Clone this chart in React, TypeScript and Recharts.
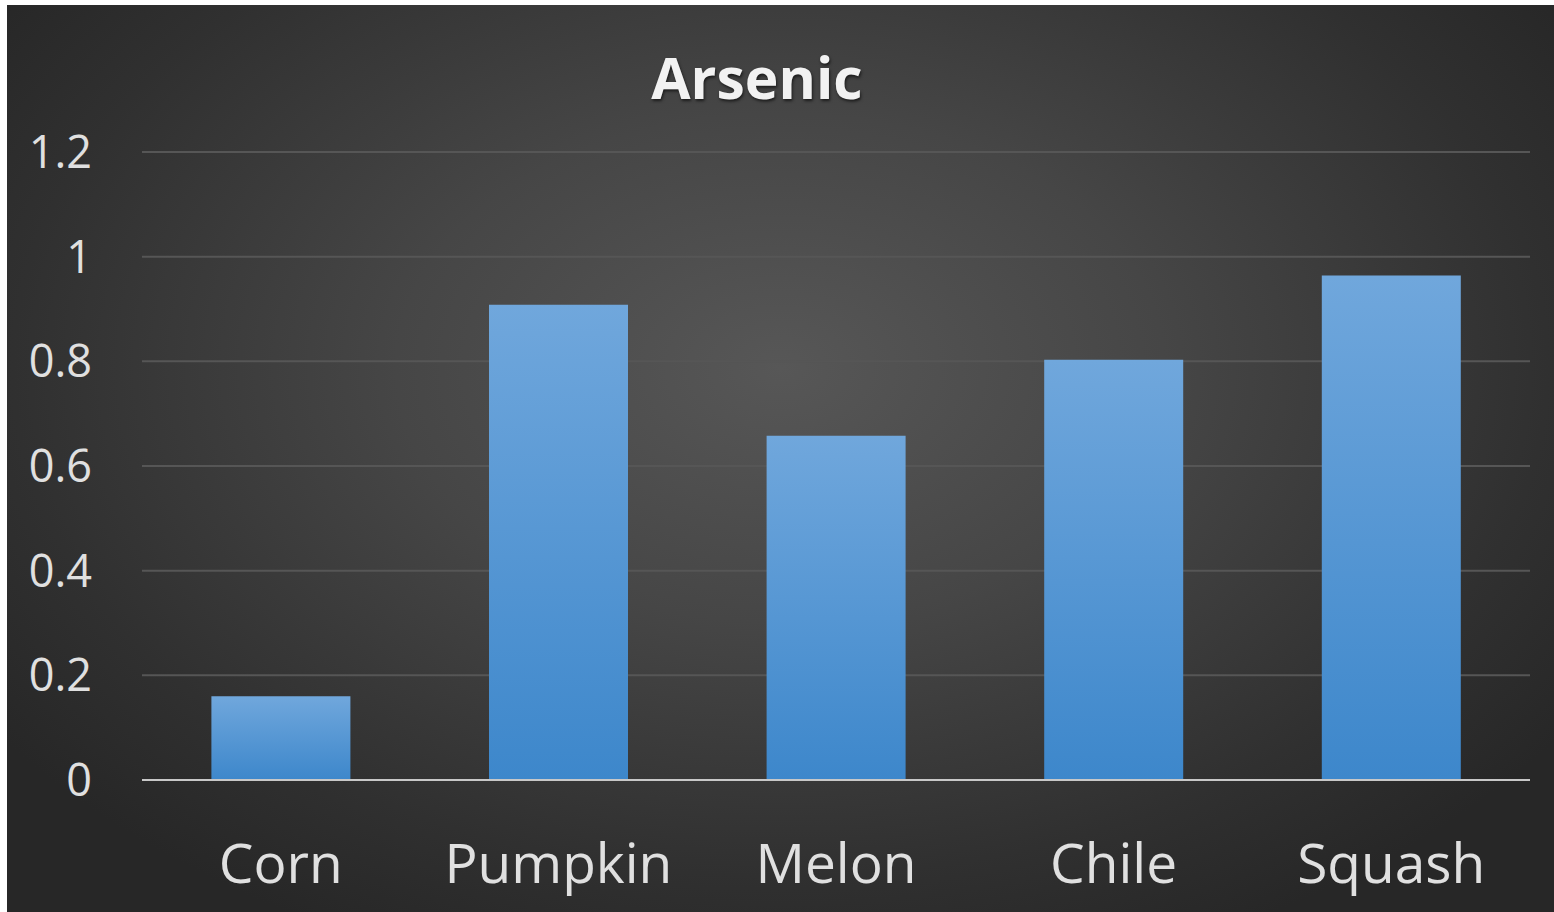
import React from 'react';
import { BarChart, Bar, XAxis, YAxis, CartesianGrid, ReferenceLine } from 'recharts';

const crops = ['Corn', 'Pumpkin', 'Melon', 'Chile', 'Squash'];
const arsenic = [0.16, 0.908, 0.658, 0.803, 0.964];
const yTicks = [0, 0.2, 0.4, 0.6, 0.8, 1, 1.2];

const data = crops.map((name, i) => ({ name, value: arsenic[i] }));

const FONT = '"Open Sans", "Noto Sans", sans-serif';

const App = () => {
  return (
    <div
      style={{
        position: 'absolute',
        left: 7,
        top: 5,
        width: 1547,
        height: 907,
        background:
          'radial-gradient(ellipse 62% 70% at 50% 40%, #575757 0%, #464646 40%, #303030 80%, #272727 100%)',
        fontFamily: FONT,
      }}
    >
      <div
        style={{
          position: 'absolute',
          left: 0,
          width: 1500,
          top: 37,
          textAlign: 'center',
          color: '#f2f2f2',
          fontSize: 57,
          fontWeight: 700,
          lineHeight: '70px',
          textShadow: '1px 2px 3px rgba(0,0,0,0.6)',
        }}
      >
        Arsenic
      </div>
      <BarChart
        width={1547}
        height={907}
        data={data}
        margin={{ top: 147, right: 24, bottom: 0, left: 15 }}
        barCategoryGap="25%"
      >
        <defs>
          <linearGradient id="barFill" x1="0" y1="0" x2="0" y2="1">
            <stop offset="0%" stopColor="#70a7dc" />
            <stop offset="100%" stopColor="#3d87cb" />
          </linearGradient>
        </defs>
        <CartesianGrid vertical={false} stroke="#565656" strokeWidth={2} />
        <XAxis
          dataKey="name"
          height={132}
          axisLine={false}
          tickLine={false}
          tickSize={0}
          tickMargin={64}
          tick={{ fill: '#e0e0e0', fontSize: 55, fontFamily: FONT }}
        />
        <YAxis
          width={120}
          domain={[0, 1.2]}
          ticks={yTicks}
          axisLine={false}
          tickLine={false}
          tickSize={0}
          tickMargin={50}
          tick={{ fill: '#e0e0e0', fontSize: 45, fontFamily: FONT }}
        />
        <Bar dataKey="value" fill="url(#barFill)" isAnimationActive={false} />
        <ReferenceLine y={0} stroke="#c8c8c8" strokeWidth={2} />
      </BarChart>
    </div>
  );
};

export default App;
